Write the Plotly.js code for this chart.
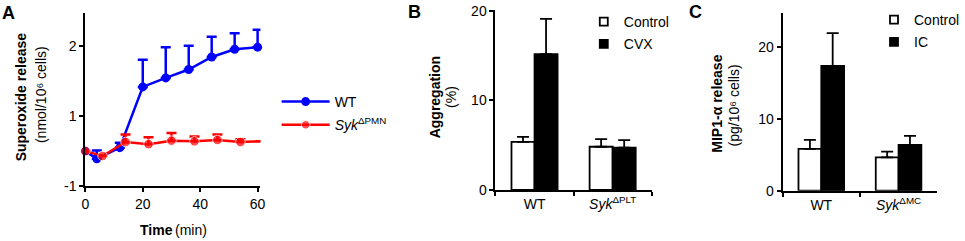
<!DOCTYPE html>
<html><head><meta charset="utf-8">
<script src="https://cdn.plot.ly/plotly-3.0.1.min.js"></script>
<style>html,body{margin:0;padding:0;background:#fff}</style>
</head><body><div id="chart" style="width:965px;height:241px"></div>
<script>
// Panel A: superoxide release over time
const timeWT = [0, 4, 12, 20, 28, 36, 44, 52, 60];
const superoxideWT = [0.5, 0.39, 0.55, 1.42, 1.55, 1.67, 1.85, 1.96, 1.99];
const superoxideWTErr = [null, 0.12, 0.07, 0.39, 0.44, 0.34, 0.29, 0.23, 0.25];
const timeSyk = [0, 6, 14, 22, 30, 38, 46, 54, 61];
const superoxideSyk = [0.5, 0.43, 0.63, 0.60, 0.65, 0.64, 0.66, 0.63, 0.64];
const superoxideSykErr = [null, null, 0.11, 0.10, 0.11, 0.07, 0.08, 0.04, null];
const sykMarkerShown = [1, 1, 1, 1, 1, 1, 1, 1, 0];
const xTicksA = [0, 20, 40, 60];
const yTickValsA = [0, 1, 2];
const yTickTextA = ['-1', '1', '2'];

// Panel B: aggregation
const groupsB = ['WT', '<i>Syk</i><sup>ΔPLT</sup>'];
const aggControl = [5.38, 4.83];
const aggControlErr = [0.56, 0.86];
const aggCVX = [15.16, 4.72];
const aggCVXErr = [3.94, 0.85];
const yTicksB = [0, 10, 20];

// Panel C: MIP1-alpha release
const groupsC = ['WT', '<i>Syk</i><sup>ΔMC</sup>'];
const mipControl = [5.82, 4.65];
const mipControlErr = [1.25, 0.79];
const mipIC = [17.39, 6.37];
const mipICErr = [4.56, 1.26];
const yTicksC = [0, 10, 20];

const FONT = 'Liberation Sans, Arial, Helvetica, sans-serif';
const W = 965, H = 241;
const px = v => v / W;
const py = v => 1 - v / H;
const zeros = a => a.map(() => 0);

const traces = [
  {
    x: timeWT, y: superoxideWT, name: 'WT', type: 'scatter', mode: 'lines+markers',
    line: {color: '#0000ff', width: 2.5}, marker: {color: '#0000ff', size: 9},
    error_y: {type: 'data', symmetric: false, array: superoxideWTErr, arrayminus: zeros(superoxideWTErr),
      color: '#0000ff', thickness: 2.5, width: 5},
    cliponaxis: false, xaxis: 'x', yaxis: 'y', legend: 'legend', legendgroup: 'a1'
  },
  {
    x: timeSyk, y: superoxideSyk, name: '<i>Syk</i><sup>ΔPMN</sup>', type: 'scatter', mode: 'lines+markers',
    line: {color: '#ff0000', width: 2.5},
    marker: {color: '#ff0000', size: sykMarkerShown.map(s => s * 9.5)},
    error_y: {type: 'data', symmetric: false, array: superoxideSykErr, arrayminus: zeros(superoxideSykErr),
      color: '#ff0000', thickness: 2.5, width: 5},
    cliponaxis: false, xaxis: 'x', yaxis: 'y', legend: 'legend', legendgroup: 'a2'
  },
  {
    x: groupsB, y: aggControl, type: 'bar', name: 'Control', showlegend: false,
    marker: {color: '#ffffff', line: {color: '#000000', width: 1.8}},
    error_y: {type: 'data', symmetric: false, array: aggControlErr, arrayminus: zeros(aggControlErr),
      color: '#000000', thickness: 1.8, width: 6},
    xaxis: 'x2', yaxis: 'y2'
  },
  {
    x: groupsB, y: aggCVX, type: 'bar', name: 'CVX', showlegend: false,
    marker: {color: '#000000', line: {color: '#000000', width: 1.8}},
    error_y: {type: 'data', symmetric: false, array: aggCVXErr, arrayminus: zeros(aggCVXErr),
      color: '#000000', thickness: 1.8, width: 6},
    xaxis: 'x2', yaxis: 'y2'
  },
  {
    x: groupsC, y: mipControl, type: 'bar', name: 'Control', showlegend: false,
    marker: {color: '#ffffff', line: {color: '#000000', width: 1.8}},
    error_y: {type: 'data', symmetric: false, array: mipControlErr, arrayminus: zeros(mipControlErr),
      color: '#000000', thickness: 1.8, width: 6},
    xaxis: 'x3', yaxis: 'y3'
  },
  {
    x: groupsC, y: mipIC, type: 'bar', name: 'IC', showlegend: false,
    marker: {color: '#000000', line: {color: '#000000', width: 1.8}},
    error_y: {type: 'data', symmetric: false, array: mipICErr, arrayminus: zeros(mipICErr),
      color: '#000000', thickness: 1.8, width: 6},
    xaxis: 'x3', yaxis: 'y3'
  },
  // legend entries for the bar panels
  {x: [null], y: [null], type: 'scatter', mode: 'markers', name: 'Control', xaxis: 'x2', yaxis: 'y2',
    marker: {symbol: 'square', size: 8, color: '#ffffff', line: {color: '#000000', width: 1.8}},
    legend: 'legend2', legendgroup: 'b1'},
  {x: [null], y: [null], type: 'scatter', mode: 'markers', name: 'CVX', xaxis: 'x2', yaxis: 'y2',
    marker: {symbol: 'square', size: 8, color: '#000000', line: {color: '#000000', width: 1.8}},
    legend: 'legend2', legendgroup: 'b2'},
  {x: [null], y: [null], type: 'scatter', mode: 'markers', name: 'Control', xaxis: 'x3', yaxis: 'y3',
    marker: {symbol: 'square', size: 8, color: '#ffffff', line: {color: '#000000', width: 1.8}},
    legend: 'legend3', legendgroup: 'c1'},
  {x: [null], y: [null], type: 'scatter', mode: 'markers', name: 'IC', xaxis: 'x3', yaxis: 'y3',
    marker: {symbol: 'square', size: 8, color: '#000000', line: {color: '#000000', width: 1.8}},
    legend: 'legend3', legendgroup: 'c2'}
];

const axisBase = {
  showline: true, linecolor: '#000000', linewidth: 2, showgrid: false, zeroline: false,
  ticks: 'outside', ticklen: 4, tickwidth: 2, tickcolor: '#000000',
  tickfont: {family: FONT, size: 14, color: '#000000'}, fixedrange: true
};

const legendBase = {
  xanchor: 'left', yanchor: 'top', bgcolor: 'rgba(0,0,0,0)', borderwidth: 0,
  font: {family: FONT, size: 14, color: '#000000'}, tracegroupgap: 1
};

const annotations = [
  {text: 'A', x: 9, y: 13, size: 18, bold: true},
  {text: 'B', x: 421, y: 12, size: 18, bold: true},
  {text: 'C', x: 706, y: 12, size: 18, bold: true},
  {text: 'Superoxide release', x: 21.7, y: 97, angle: -90, bold: true},
  {text: '(nmol/10⁶ cells)', x: 41.7, y: 95, angle: -90},
  {text: 'Time', x: 140, y: 230, bold: true, anchor: 'left'},
  {text: '(min)', x: 176, y: 230, anchor: 'left'},
  {text: 'Aggregation', x: 441.7, y: 97.5, angle: -90, bold: true},
  {text: '(%)', x: 458.3, y: 96.7, angle: -90},
  {text: 'MIP1-α release', x: 728, y: 104, angle: -90, bold: true},
  {text: '(pg/10⁶ cells)', x: 746, y: 105, angle: -90}
].map(a => ({
  text: a.text, x: px(a.x), y: py(a.y), textangle: a.angle || 0,
  xref: 'paper', yref: 'paper', showarrow: false, xanchor: a.anchor || 'center', yanchor: 'middle',
  font: {family: FONT, size: a.size || 14, color: '#000000', weight: a.bold ? 'bold' : 'normal'}
}));

const layout = {
  width: W, height: H, margin: {l: 0, r: 0, t: 0, b: 0},
  paper_bgcolor: '#ffffff', plot_bgcolor: 'rgba(0,0,0,0)',
  font: {family: FONT, size: 14, color: '#000000'},
  barmode: 'group', bargap: 0.41, bargroupgap: 0,
  xaxis: Object.assign({}, axisBase, {domain: [px(86.7), px(264.6)], range: [0, 61], tickvals: xTicksA, anchor: 'y'}),
  yaxis: Object.assign({}, axisBase, {domain: [py(186), py(13)], range: [0, 2.48], tickvals: yTickValsA, ticktext: yTickTextA, anchor: 'x'}),
  xaxis2: Object.assign({}, axisBase, {domain: [px(503.3), px(662)], type: 'category', range: [-0.5, 1.5], tickson: 'boundaries', anchor: 'y2'}),
  yaxis2: Object.assign({}, axisBase, {domain: [py(190), py(10)], range: [0, 20.1], tickvals: yTicksB, anchor: 'x2'}),
  xaxis3: Object.assign({}, axisBase, {domain: [px(795), px(952)], type: 'category', range: [-0.5, 1.5], tickson: 'boundaries', anchor: 'y3'}),
  yaxis3: Object.assign({}, axisBase, {domain: [py(190.7), py(12.7)], range: [0, 24.8], tickvals: yTicksC, anchor: 'x3'}),
  showlegend: true,
  legend: Object.assign({}, legendBase, {x: px(281), y: py(86), itemwidth: 48, tracegroupgap: 2}),
  legend2: Object.assign({}, legendBase, {x: px(593), y: py(6)}),
  legend3: Object.assign({}, legendBase, {x: px(888), y: py(4)}),
  annotations: annotations
};

Plotly.newPlot('chart', traces, layout, {displayModeBar: false});
</script>
</body></html>
